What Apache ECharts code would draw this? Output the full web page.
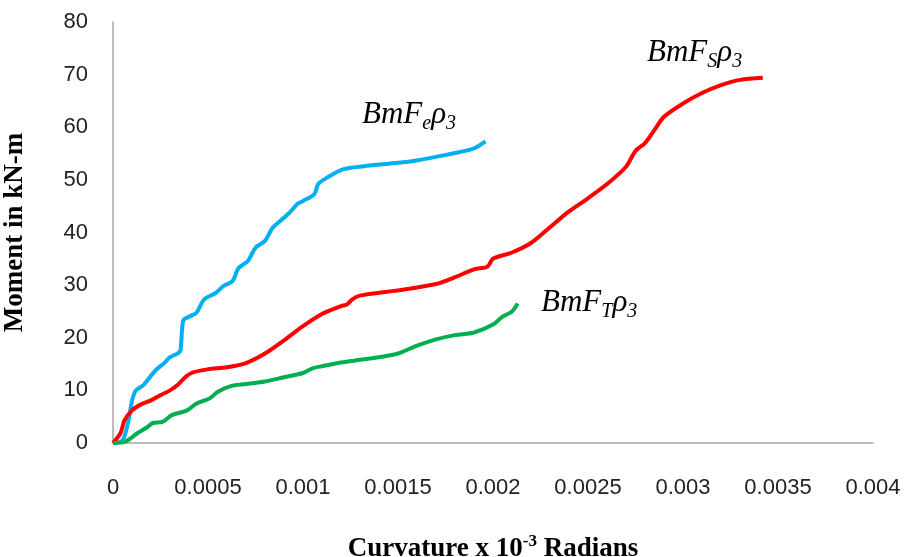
<!DOCTYPE html>
<html>
<head>
<meta charset="utf-8">
<script src="https://cdn.jsdelivr.net/npm/echarts@6/dist/echarts.min.js"></script>
<style>
  html, body { margin: 0; padding: 0; background: #fff; }
  #chart { width: 906px; height: 557px; }
</style>
</head>
<body>
<div id="chart"></div>
<script>
// x ticks and y ticks
var xTicks = [0, 0.0005, 0.001, 0.0015, 0.002, 0.0025, 0.003, 0.0035, 0.004];
var yTicks = [0, 10, 20, 30, 40, 50, 60, 70, 80];

// BmFe rho3 (blue)
var feCurv = [0, 0.00005, 0.00008, 0.0001, 0.00012, 0.00016, 0.0002, 0.00023, 0.00027, 0.0003, 0.00034, 0.000355, 0.00037, 0.0004, 0.00044, 0.00048, 0.00054, 0.00058, 0.00063, 0.00066, 0.00071, 0.00075, 0.0008, 0.00084, 0.00088, 0.00093, 0.00097, 0.001, 0.00106, 0.00108, 0.00113, 0.00121, 0.00132, 0.00146, 0.00158, 0.00176, 0.0019, 0.00196];
var feMoment = [0, 0.5, 4, 8, 10, 11, 12.8, 14, 15.2, 16.3, 17, 17.6, 23.3, 24, 24.8, 27.3, 28.5, 29.8, 30.8, 33.2, 34.6, 37.1, 38.4, 40.9, 42.2, 43.8, 45.4, 46, 47.3, 49.2, 50.5, 52, 52.6, 53.1, 53.6, 54.8, 56, 57.3];

// BmFS rho3 (red)
var fsCurv = [0, 0.00004, 0.00006, 0.0001, 0.00014, 0.0002, 0.00025, 0.0003, 0.00034, 0.00038, 0.00042, 0.0005, 0.0006, 0.0007, 0.0008, 0.0009, 0.001, 0.0011, 0.0012, 0.00123, 0.00126, 0.0013, 0.0015, 0.0017, 0.0018, 0.0019, 0.00197, 0.002, 0.0021, 0.0022, 0.0023, 0.0024, 0.0025, 0.0026, 0.0027, 0.00275, 0.0028, 0.00285, 0.0029, 0.003, 0.0031, 0.0032, 0.0033, 0.00342];
var fsMoment = [0, 1.9, 4.3, 6.2, 7.2, 8.1, 9.1, 10, 11, 12.5, 13.4, 14, 14.4, 15.2, 17, 19.5, 22.2, 24.5, 26, 26.3, 27.3, 28, 29, 30.2, 31.5, 33, 33.5, 35, 36.2, 38, 41, 44, 46.5, 49.2, 52.5, 55.5, 57, 59.5, 62, 64.5, 66.5, 68, 69, 69.4];

// BmFT rho3 (green)
var ftCurv = [0, 0.00006, 0.00013, 0.00018, 0.00021, 0.00026, 0.00031, 0.00039, 0.00044, 0.00051, 0.00055, 0.00062, 0.0007, 0.0008, 0.0009, 0.001, 0.00105, 0.0011, 0.0012, 0.0013, 0.0014, 0.0015, 0.0016, 0.0017, 0.0018, 0.0019, 0.002, 0.00205, 0.0021, 0.00213];
var ftMoment = [0, 0.2, 1.9, 3, 3.8, 4, 5.3, 6.2, 7.5, 8.5, 9.7, 10.8, 11.2, 11.7, 12.5, 13.3, 14.2, 14.6, 15.3, 15.8, 16.3, 17, 18.5, 19.7, 20.5, 21, 22.5, 24, 25, 26.5];

function zip(xs, ys) {
  return xs.map(function (x, i) { return [x, ys[i]]; });
}

var chart = echarts.init(document.getElementById("chart"));

var serif = "'Liberation Serif', 'Times New Roman', serif";
var sans = "'Liberation Sans', Arial, sans-serif";

// rich styles for the curve names (main text + subscripts dropped lower)
var nameRich = {
  m: { fontFamily: serif, fontStyle: "italic", fontSize: 31, lineHeight: 31, verticalAlign: "top", color: "#000" },
  s: { fontFamily: serif, fontStyle: "italic", fontSize: 20, lineHeight: 50, verticalAlign: "middle", color: "#000" }
};

function nameText(left, top, sub) {
  return {
    type: "text",
    left: left,
    top: top,
    style: {
      text: "{m|BmF}{s|" + sub + "}{m|ρ}{s|3}",
      rich: nameRich
    }
  };
}

var lineCommon = {
  type: "line",
  showSymbol: false,
  smooth: 0.3
};

var option = {
  animation: false,
  backgroundColor: "#fff",
  grid: { left: 113, right: 33, top: 22, bottom: 114, containLabel: false, outerBoundsMode: "none" },
  xAxis: {
    type: "value",
    min: xTicks[0],
    max: xTicks[xTicks.length - 1],
    interval: 0.0005,
    name: "{a|Curvature x 10}{b|-3}{a| Radians}",
    nameLocation: "middle",
    nameGap: 90,
    nameTextStyle: {
      rich: {
        a: { fontFamily: serif, fontWeight: "bold", fontSize: 27, color: "#000", verticalAlign: "bottom", lineHeight: 30 },
        b: { fontFamily: serif, fontWeight: "bold", fontSize: 17, color: "#000", verticalAlign: "top", lineHeight: 30 }
      }
    },
    axisLine: { lineStyle: { color: "#a6a6a6", width: 1.5 } },
    axisTick: { show: false },
    splitLine: { show: false },
    axisLabel: {
      margin: 34,
      fontFamily: sans,
      fontSize: 22,
      color: "#222",
      formatter: function (v) { return String(parseFloat(v.toPrecision(6))); }
    }
  },
  yAxis: {
    type: "value",
    min: yTicks[0],
    max: yTicks[yTicks.length - 1],
    interval: 10,
    name: "Moment in kN-m",
    nameLocation: "middle",
    nameGap: 84,
    nameTextStyle: { fontFamily: serif, fontWeight: "bold", fontSize: 27, color: "#000" },
    axisLine: { show: true, lineStyle: { color: "#a6a6a6", width: 1.5 } },
    axisTick: { show: false },
    splitLine: { show: false },
    axisLabel: { margin: 25, fontFamily: sans, fontSize: 22, color: "#222" }
  },
  series: [
    Object.assign({}, lineCommon, { name: "BmFeρ3", data: zip(feCurv, feMoment), itemStyle: { color: "#00B0F0" }, lineStyle: { width: 4, color: "#00B0F0" } }),
    Object.assign({}, lineCommon, { name: "BmFSρ3", data: zip(fsCurv, fsMoment), itemStyle: { color: "#FF0000" }, lineStyle: { width: 4, color: "#FF0000" } }),
    Object.assign({}, lineCommon, { name: "BmFTρ3", data: zip(ftCurv, ftMoment), itemStyle: { color: "#00B050" }, lineStyle: { width: 4, color: "#00B050" } })
  ],
  graphic: [
    nameText(362, 99, "e"),
    nameText(647, 37, "S"),
    nameText(541, 287, "T")
  ]
};

chart.setOption(option);
</script>
</body>
</html>
